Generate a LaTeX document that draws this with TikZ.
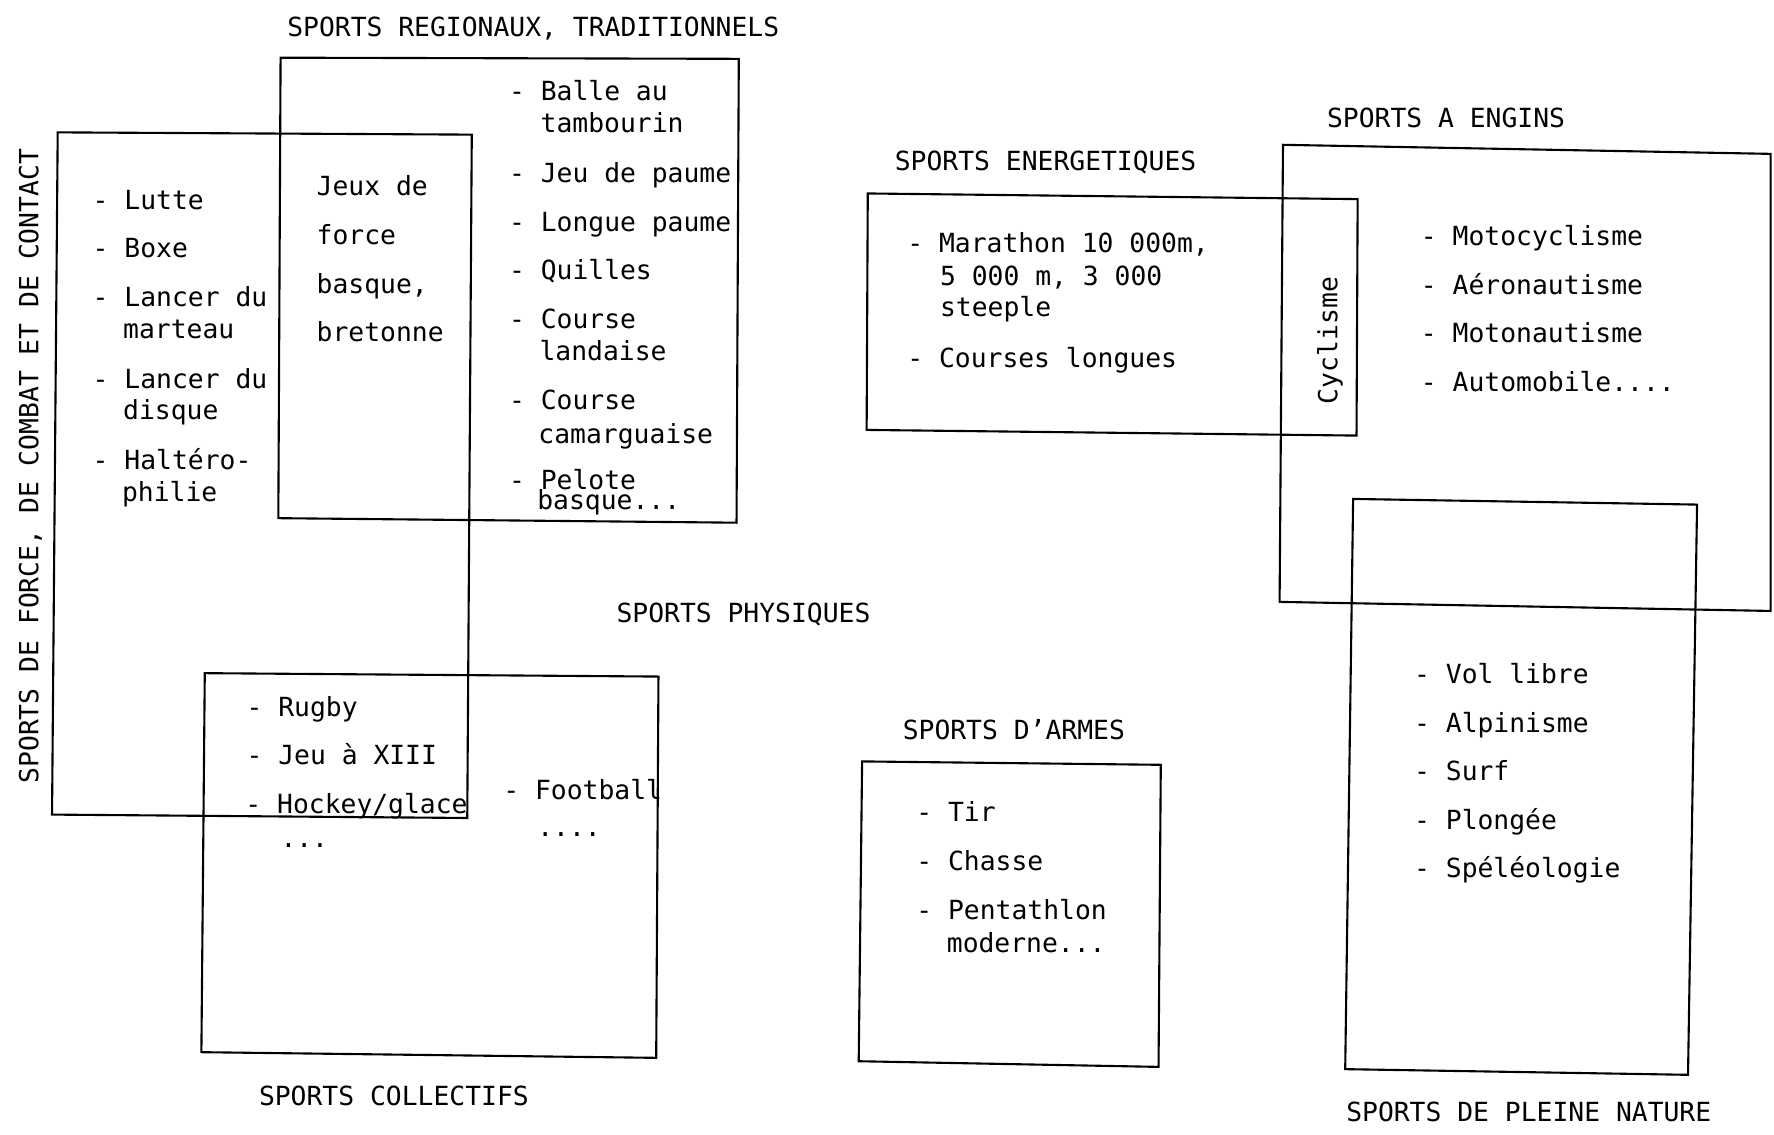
\documentclass[tikz,border=0pt]{standalone}
\usepackage{fontspec}
\setmainfont{DejaVu Sans Mono}
\begin{document}
\begin{tikzpicture}[x=0.02263cm,y=-0.02263cm,line width=1.2pt,
  txt/.style={anchor=base west,inner sep=0pt,font=\fontsize{15}{18}\selectfont},
  vtxt/.style={anchor=base,inner sep=0pt,rotate=90,font=\fontsize{15}{18}\selectfont},
  box/.style={draw,line join=miter}]
\useasboundingbox (0,0) rectangle (1568,1003);
% boxes
\draw[box] (248,51) -- (653,52) -- (651,462) -- (246,458) -- cycle;
\draw[box] (51,117) -- (417,119) -- (413,723) -- (46,720) -- cycle;
\draw[box] (181,595) -- (582,598) -- (580,935) -- (178,930) -- cycle;
\draw[box] (767,171) -- (1200,176) -- (1199,385) -- (766,380) -- cycle;
\draw[box] (1134,128) -- (1565,136) -- (1565,540) -- (1131,532) -- cycle;
\draw[box] (1196,441) -- (1500,446) -- (1492,950) -- (1189,945) -- cycle;
\draw[box] (762,673) -- (1026,676) -- (1024,943) -- (759,938) -- cycle;
% titles
\node[txt] (tReg) at (253,32) {SPORTS REGIONAUX, TRADITIONNELS};
\node[txt] (tEng) at (1172,113) {SPORTS A ENGINS};
\node[txt] (tEne) at (790,151) {SPORTS ENERGETIQUES};
\node[txt] (tPhy) at (544,550) {SPORTS PHYSIQUES};
\node[txt] (tArm) at (797,654) {SPORTS D'ARMES};
\node[txt] (tCol) at (228,977) {SPORTS COLLECTIFS};
\node[txt] (tNat) at (1189,991) {SPORTS DE PLEINE NATURE};
\node[vtxt] (tFor) at (34,412) {SPORTS DE FORCE, DE COMBAT ET DE CONTACT};
\node[vtxt] (tCyc) at (1182,301) {Cyclisme};
% regional list
\node[txt] (r1) at (449,89) {- Balle au};
\node[txt] (r1b) at (477,117) {tambourin};
\node[txt] (r2) at (449,161) {- Jeu de paume};
\node[txt] (r3) at (449,205) {- Longue paume};
\node[txt] (r4) at (449,247) {- Quilles};
\node[txt] (r5) at (449,290) {- Course};
\node[txt] (r5b) at (476,319) {landaise};
\node[txt] (r6) at (449,362) {- Course};
\node[txt] (r6b) at (475,392) {camarguaise};
\node[txt] (r7) at (449,433) {- Pelote};
\node[txt] (r7b) at (474,450) {basque...};
% jeux de force
\node[txt] (j1) at (279,173) {Jeux de};
\node[txt] (j2) at (279,216) {force};
\node[txt] (j3) at (279,259) {basque,};
\node[txt] (j4) at (279,302) {bretonne};
% force list
\node[txt] (f1) at (81,185) {- Lutte};
\node[txt] (f2) at (81,228) {- Boxe};
\node[txt] (f3) at (81,271) {- Lancer du};
\node[txt] (f3b) at (108,299) {marteau};
\node[txt] (f4) at (81,343) {- Lancer du};
\node[txt] (f4b) at (108,371) {disque};
\node[txt] (f5) at (81,415) {- Haltéro-};
\node[txt] (f5b) at (107,443) {philie};
% collectifs
\node[txt] (c1) at (217,633) {- Rugby};
\node[txt] (c2) at (217,676) {- Jeu à XIII};
\node[txt] (c3) at (216,719) {- Hockey/glace};
\node[txt] (c3b) at (247,749) {...};
\node[txt] (c4) at (444,707) {- Football};
\node[txt] (c4b) at (474,739) {....};
% energetiques
\node[txt] (e1) at (801,223) {- Marathon 10 000m,};
\node[txt] (e1b) at (830,252) {5 000 m, 3 000};
\node[txt] (e1c) at (830,280) {steeple};
\node[txt] (e2) at (801,325) {- Courses longues};
% engins
\node[txt] (g1) at (1255,217) {- Motocyclisme};
\node[txt] (g2) at (1255,260) {- Aéronautisme};
\node[txt] (g3) at (1255,303) {- Motonautisme};
\node[txt] (g4) at (1255,346) {- Automobile....};
% armes
\node[txt] (a1) at (809,726) {- Tir};
\node[txt] (a2) at (809,769) {- Chasse};
\node[txt] (a3) at (809,813) {- Pentathlon};
\node[txt] (a3b) at (836,842) {moderne...};
% nature
\node[txt] (n1) at (1249,604) {- Vol libre};
\node[txt] (n2) at (1249,647) {- Alpinisme};
\node[txt] (n3) at (1249,690) {- Surf};
\node[txt] (n4) at (1249,733) {- Plongée};
\node[txt] (n5) at (1249,776) {- Spéléologie};
\end{tikzpicture}
\end{document}
